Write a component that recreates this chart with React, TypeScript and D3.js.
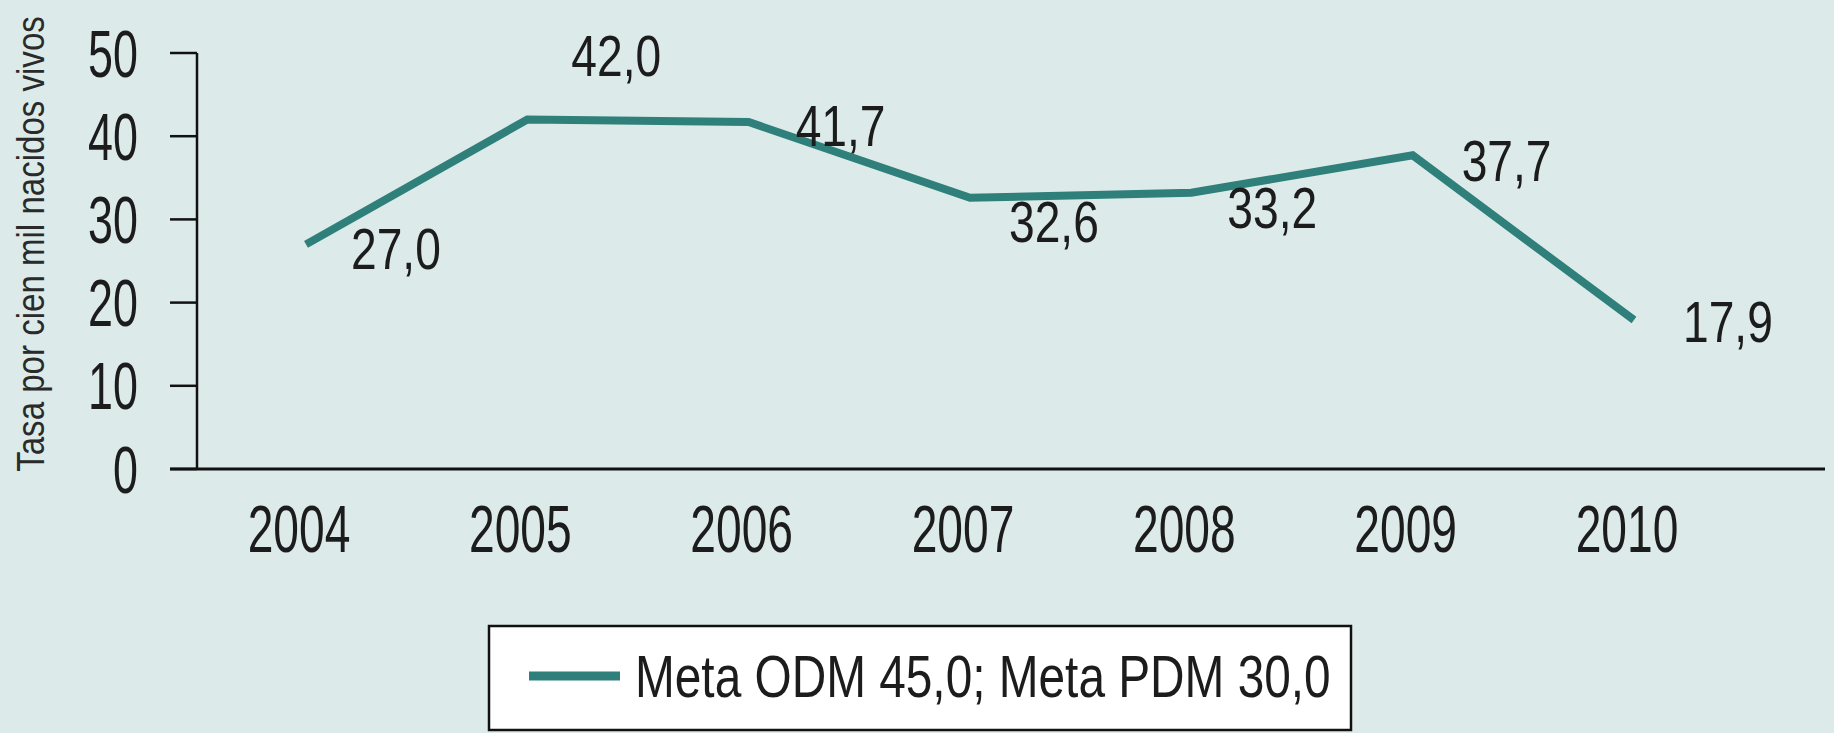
import React from "react";
import * as d3 from "d3";

const years = ["2004", "2005", "2006", "2007", "2008", "2009", "2010"];
const values = [27.0, 42.0, 41.7, 32.6, 33.2, 37.7, 17.9];
const valueLabels = ["27,0", "42,0", "41,7", "32,6", "33,2", "37,7", "17,9"];
const yTicks = [0, 10, 20, 30, 40, 50];
const labelDx = [45, 44, 47, 39, 36, 49, 49];
const labelDy = [5, -64, 4, 24, 15, 6, 2];
const yAxisTitle = "Tasa por cien mil nacidos vivos";
const legendText = "Meta ODM 45,0; Meta PDM 30,0";

const W = 1834;
const H = 733;
const BG = "#dcebea";
const LINE = "#2f7f7a";
const TXT = "#1c1c1c";
const FONT = "'Liberation Sans', Arial, sans-serif";

function SText({ x, y, sx, size, anchor = "start", children, rotate = 0, fill = TXT }: any) {
  return (
    <text
      transform={`translate(${x},${y}) rotate(${rotate}) scale(${sx},1)`}
      fontFamily={FONT}
      fontSize={size}
      fill={fill}
      textAnchor={anchor}
    >
      {children}
    </text>
  );
}

export default function App() {
  const x = d3.scalePoint<string>().domain(years).range([306, 1634]);
  const y = d3.scaleLinear().domain([0, 50]).range([469, 53]);
  const line = d3
    .line<number>()
    .x((_, i) => x(years[i]) as number)
    .y((d) => y(d));

  return (
    <svg
      width={W}
      height={H}
      style={{ position: "absolute", left: 0, top: 0, display: "block" }}
    >
      <rect x={0} y={0} width={W} height={H} fill={BG} />
      {/* y axis title */}
      <SText x={44} y={244} sx={0.87} size={38} anchor="middle" rotate={-90} fill="#2a2a2a">
        {yAxisTitle}
      </SText>
      {/* y axis */}
      <line x1={197} x2={197} y1={y(50)} y2={y(0)} stroke="#111" strokeWidth={2.5} />
      {yTicks.map((t) => (
        <g key={t}>
          <line x1={170} x2={197} y1={y(t)} y2={y(t)} stroke="#111" strokeWidth={2.5} />
          <SText x={138} y={y(t) + 23.5} sx={0.68} size={66} anchor="end">
            {t}
          </SText>
        </g>
      ))}
      {/* x axis */}
      <line x1={170} x2={1825} y1={y(0)} y2={y(0)} stroke="#111" strokeWidth={3} />
      {years.map((yr) => (
        <SText key={yr} x={(x(yr) as number) - 7} y={552} sx={0.7} size={66} anchor="middle">
          {yr}
        </SText>
      ))}
      {/* line */}
      <path
        d={line(values) || ""}
        fill="none"
        stroke={LINE}
        strokeWidth={8}
        strokeLinejoin="miter"
      />
      {values.map((v, i) => (
        <SText
          key={i}
          x={(x(years[i]) as number) + labelDx[i]}
          y={y(v) + labelDy[i] + 20}
          sx={0.81}
          size={57}
        >
          {valueLabels[i]}
        </SText>
      ))}
      {/* legend */}
      <rect x={489} y={626} width={862} height={104} fill="#ffffff" stroke="#111" strokeWidth={2.5} />
      <line x1={529} x2={620} y1={676} y2={676} stroke={LINE} strokeWidth={9} />
      <SText x={635} y={697} sx={0.81} size={59}>
        {legendText}
      </SText>
    </svg>
  );
}
